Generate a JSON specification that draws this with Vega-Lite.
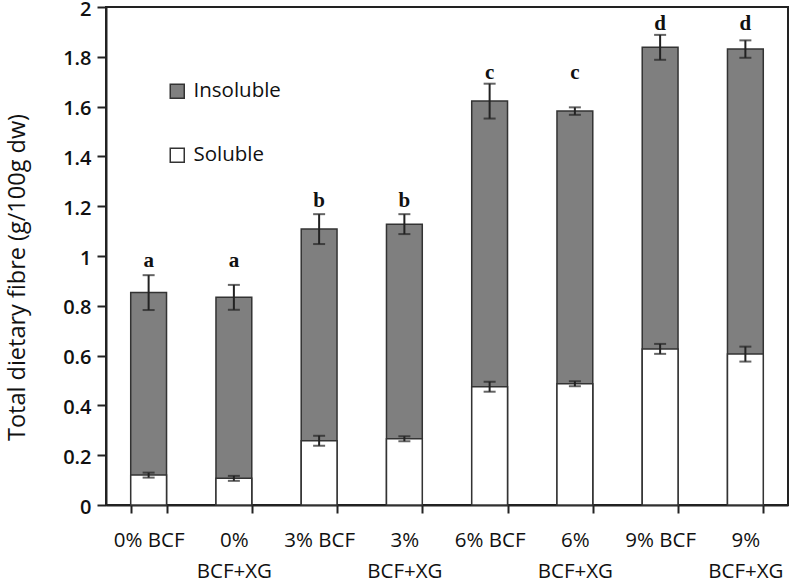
{
  "$schema": "https://vega.github.io/schema/vega-lite/v6.json",
  "width": 682,
  "height": 498,
  "autosize": {"type": "none"},
  "padding": {"left": 106, "top": 7, "right": 4, "bottom": 78},
  "background": "white",
  "data": {
    "values": [
      {"group": "0% BCF", "soluble": 0.12, "sol_err": 0.01, "total": 0.853, "tot_err": 0.07, "letter": "a", "letter_at": 0.955},
      {"group": "0%|BCF+XG", "soluble": 0.107, "sol_err": 0.01, "total": 0.834, "tot_err": 0.05, "letter": "a", "letter_at": 0.955},
      {"group": "3% BCF", "soluble": 0.258, "sol_err": 0.02, "total": 1.108, "tot_err": 0.06, "letter": "b", "letter_at": 1.198},
      {"group": "3%|BCF+XG", "soluble": 0.266, "sol_err": 0.01, "total": 1.128, "tot_err": 0.04, "letter": "b", "letter_at": 1.198},
      {"group": "6% BCF", "soluble": 0.475, "sol_err": 0.02, "total": 1.622, "tot_err": 0.07, "letter": "c", "letter_at": 1.71},
      {"group": "6%|BCF+XG", "soluble": 0.487, "sol_err": 0.01, "total": 1.582, "tot_err": 0.015, "letter": "c", "letter_at": 1.71},
      {"group": "9% BCF", "soluble": 0.627, "sol_err": 0.02, "total": 1.838, "tot_err": 0.05, "letter": "d", "letter_at": 1.908},
      {"group": "9%|BCF+XG", "soluble": 0.606, "sol_err": 0.03, "total": 1.831, "tot_err": 0.035, "letter": "d", "letter_at": 1.908}
    ]
  },
  "encoding": {
    "x": {
      "field": "group",
      "type": "nominal",
      "sort": null,
      "scale": {"paddingInner": 0.58, "paddingOuter": 0.29},
      "axis": {
        "title": null,
        "labelAngle": 0,
        "tickBand": "extent",
        "tickSize": 8,
        "labelPadding": 17,
        "labelExpr": "datum.value ? split(datum.value, '|') : ''",
        "labelLineHeight": 31,
        "labelBaseline": "top",
        "labelFontSize": 20.5,
        "labelFontWeight": 500
      }
    }
  },
  "layer": [
    {
      "mark": {"type": "bar", "stroke": "#333", "strokeWidth": 1.5},
      "encoding": {
        "y": {
          "field": "total",
          "type": "quantitative",
          "title": "Total dietary fibre (g/100g dw)",
          "scale": {"domain": [0, 2], "nice": false},
          "axis": {
            "title": "Total dietary fibre (g/100g dw)",
            "values": [0, 0.2, 0.4, 0.6, 0.8, 1, 1.2, 1.4, 1.6, 1.8, 2],
            "format": "~g",
            "tickSize": 9,
            "labelPadding": 6,
            "labelOffset": 2,
            "titlePadding": 33,
            "titleFontSize": 23.5,
            "titleY": 270
          }
        },
        "color": {
          "datum": "Insoluble",
          "scale": {"domain": ["Insoluble", "Soluble"], "range": ["#7f7f7f", "#ffffff"]},
          "legend": {
            "orient": "none",
            "legendX": 61,
            "legendY": 74,
            "title": null,
            "symbolType": "square",
            "symbolSize": 196,
            "symbolStrokeColor": "#333",
            "symbolStrokeWidth": 1.5,
            "labelFont": "Open Sans",
            "labelFontSize": 20.5,
            "labelFontWeight": 500,
            "labelColor": "#111",
            "labelOffset": 6,
            "rowPadding": 43
          }
        }
      }
    },
    {
      "mark": {"type": "bar", "stroke": "#333", "strokeWidth": 1.5},
      "encoding": {
        "y": {"field": "soluble", "type": "quantitative", "title": "Total dietary fibre (g/100g dw)"},
        "color": {"datum": "Soluble"}
      }
    },
    {
      "mark": {
        "type": "errorbar",
        "ticks": {"size": 12, "thickness": 2, "color": "#222"},
        "rule": {"strokeWidth": 2, "color": "#222"}
      },
      "encoding": {
        "y": {"field": "total", "type": "quantitative", "title": "Total dietary fibre (g/100g dw)"},
        "yError": {"field": "tot_err"}
      }
    },
    {
      "mark": {
        "type": "errorbar",
        "ticks": {"size": 12, "thickness": 2, "color": "#222"},
        "rule": {"strokeWidth": 2, "color": "#222"}
      },
      "encoding": {
        "y": {"field": "soluble", "type": "quantitative", "title": "Total dietary fibre (g/100g dw)"},
        "yError": {"field": "sol_err"}
      }
    },
    {
      "mark": {"type": "text", "font": "Liberation Serif", "fontWeight": "bold", "fontSize": 21, "baseline": "alphabetic", "color": "#111"},
      "encoding": {
        "y": {"field": "letter_at", "type": "quantitative", "title": "Total dietary fibre (g/100g dw)"},
        "text": {"field": "letter"}
      }
    }
  ],
  "config": {
    "view": {"stroke": "#222", "strokeWidth": 2},
    "axis": {
      "grid": false,
      "domainColor": "#222",
      "domainWidth": 2,
      "tickColor": "#222",
      "tickWidth": 2,
      "labelFont": "Open Sans",
      "labelFontSize": 20,
      "labelFontWeight": 600,
      "labelColor": "#111",
      "titleFont": "Open Sans",
      "titleFontSize": 20,
      "titleFontWeight": "normal",
      "titleColor": "#111"
    }
  }
}
